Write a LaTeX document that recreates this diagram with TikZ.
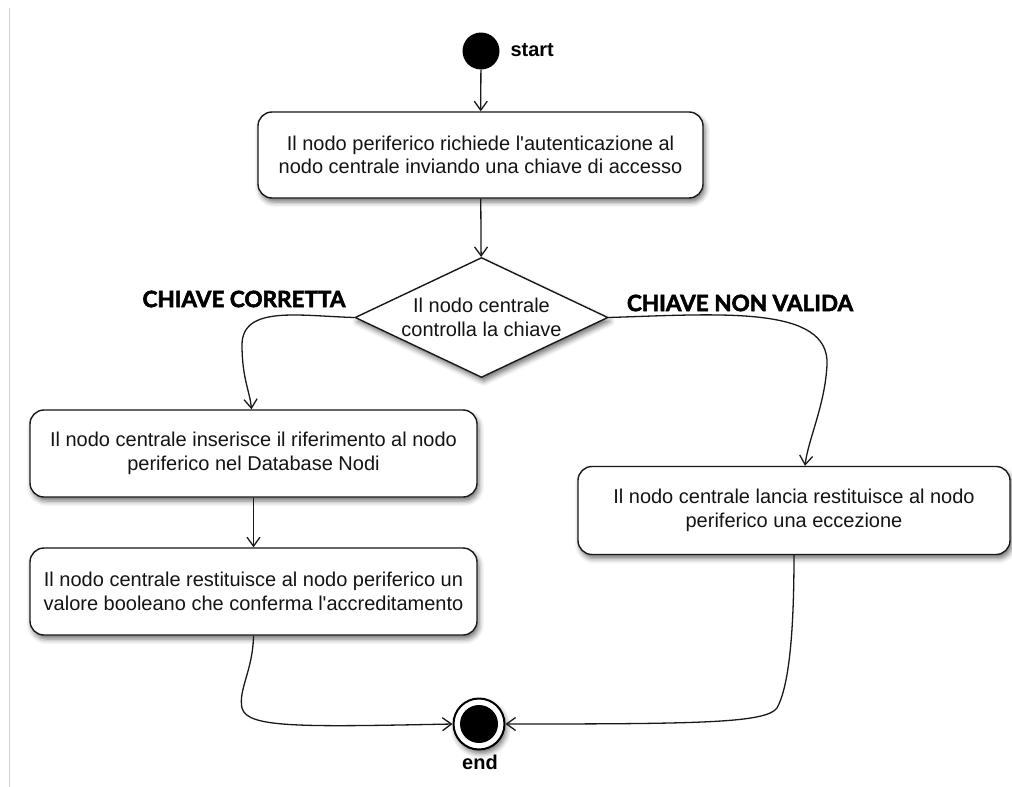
\documentclass[tikz,border=0pt]{standalone}
\usepackage{fontspec}
\setmainfont{Liberation Sans}[Ligatures=TeXOff]
\newfontfamily\tagfont{Lato}[BoldFeatures={FakeBold=2.5}]
\usetikzlibrary{shapes.geometric,arrows.meta,shadows.blur}

\tikzset{
  soft shadow/.style={blur shadow={shadow xshift=2pt, shadow yshift=-4pt,
      shadow blur radius=5pt, shadow opacity=55}},
  txt/.style={font=\fontsize{20}{23.5}\selectfont, text=black!92},
  action/.style={txt, draw=black!90, line width=1.4pt, fill=white,
      rounded corners=14pt, align=center, inner sep=0pt, soft shadow},
  decision/.style={txt, diamond, draw=black!90, line width=1.4pt, fill=white,
      align=center, inner sep=0pt, aspect=2.1, minimum width=253pt,
      minimum height=120pt, soft shadow},
  flow/.style={draw=black!90, line width=1.3pt,
      -{Straight Barb[length=9pt, width=13pt]}},
  statelabel/.style={font=\bfseries\fontsize{20}{24}\selectfont},
  guard/.style={font=\tagfont\bfseries\fontsize{22.5}{26}\selectfont, text=black},
}

\begin{document}
\begin{tikzpicture}[x=1pt,y=-1pt]
\useasboundingbox (0,0) rectangle (1012,787);

% page margin rule
\draw[black!18, line width=1pt] (9,8) -- (9,787);

% start state
\node[circle, fill=black, minimum size=37pt, inner sep=0pt] (start) at (481,51) {};
\node[statelabel, anchor=west] (startlbl) at (507,50) {start};

% actions
\node[action, minimum width=445pt, minimum height=86pt] (auth) at (480.5,155)
  {Il nodo periferico richiede l'autenticazione al\\nodo centrale inviando una chiave di accesso};

\node[decision] (check) at (481.5,317.5) {Il nodo centrale\\controlla la chiave};

\node[guard] (okkey) at (244,299) {CHIAVE CORRETTA};
\node[guard] (badkey) at (740,303) {CHIAVE NON VALIDA};

\node[action, minimum width=447pt, minimum height=87pt] (insert) at (253.5,453.5)
  {Il nodo centrale inserisce il riferimento al nodo\\periferico nel Database Nodi};

\node[action, minimum width=447pt, minimum height=87pt] (confirm) at (253.5,591.5)
  {Il nodo centrale restituisce al nodo periferico un\\valore booleano che conferma l'accreditamento};

\node[action, minimum width=432pt, minimum height=88pt] (reject) at (794,510.5)
  {Il nodo centrale lancia restituisce al nodo\\periferico una eccezione};

% end state
\node[circle, draw=black, line width=2pt, fill=white, minimum size=51pt,
      inner sep=0pt, soft shadow] (end) at (479,724) {};
\node[circle, fill=black, minimum size=38pt, inner sep=0pt] (endcore) at (end.center) {};
\node[statelabel] (endlbl) at (480,762) {end};

% connectors
\draw[flow] (start) -- (auth);
\draw[flow] (auth) -- (check);
\draw[flow] (check.west) .. controls (300,316) and (242,305) .. (242,345)
  .. controls (242,378) and (250,392) .. ([xshift=-2pt]insert.north);
\draw[flow] (check.east) .. controls (720,314) and (830,305) .. (827,365)
  .. controls (825,405) and (808,440) .. ([xshift=11pt]reject.north);
\draw[flow] (insert) -- (confirm);
\draw[flow] (confirm.south) .. controls (253,670) and (238,690) .. (242,708)
  .. controls (247,728) and (300,727) .. (end.west);
\draw[flow] (reject.south) .. controls (794,640) and (788,688) .. (777,708)
  .. controls (766,723) and (700,724) .. (end.east);
\end{tikzpicture}
\end{document}
